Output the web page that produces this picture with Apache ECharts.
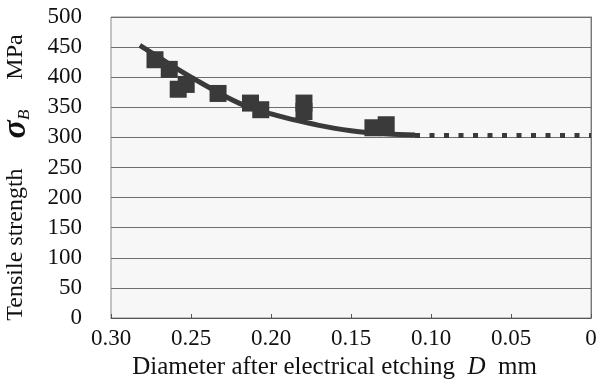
<!DOCTYPE html>
<html>
<head>
<meta charset="utf-8">
<script src="https://cdn.jsdelivr.net/npm/echarts@6/dist/echarts.min.js"></script>
<style>
  html, body { margin: 0; padding: 0; background: #fff; }
  #chart { width: 600px; height: 385px; }
</style>
</head>
<body>
<div id="chart"></div>
<script>
// measured points (diameter D in mm, tensile strength in MPa)
var pointD = [0.2725, 0.2636, 0.258, 0.253, 0.2331, 0.2128, 0.2064, 0.1794, 0.1794, 0.1363, 0.128];
var pointS = [429, 413, 380, 388, 373, 357, 346, 357, 343, 316, 321];

// fitted curve
var curveD = [0.282, 0.27, 0.26, 0.25, 0.24, 0.23, 0.22, 0.21, 0.20, 0.19, 0.18, 0.17, 0.16, 0.15, 0.14, 0.13, 0.12, 0.11];
var curveS = [453, 433, 416, 400, 385, 370, 357, 347, 339, 332, 326, 320, 315, 311, 308, 306, 305, 304];

// dotted extension
var extD = [0.11, 0.0];
var extS = [303, 303];

var xTicks = ['0.30', '0.25', '0.20', '0.15', '0.10', '0.05', '0'];

function zip(a, b) {
    var out = [];
    for (var i = 0; i < a.length; i++) out.push([a[i], b[i]]);
    return out;
}

var myChart = echarts.init(document.getElementById('chart'));
var serif = 'Liberation Serif';
var ink = '#3a3a3a';

var option = {
    animation: false,
    backgroundColor: '#fff',
    grid: {
        left: 111,
        right: 9,
        top: 17,
        bottom: 67,
        outerBoundsMode: 'none',
        show: true,
        backgroundColor: '#f7f7f7',
        borderColor: '#8a8a8a',
        borderWidth: 1
    },
    xAxis: {
        type: 'value',
        inverse: true,
        min: 0,
        max: 0.3,
        interval: 0.05,
        name: '{t|Diameter after electrical etching  }{i|D}{t|  mm}',
        nameLocation: 'middle',
        nameGap: 22,
        nameTextStyle: {
            padding: [0, 33, 0, 0],
            rich: {
                t: { fontFamily: serif, fontSize: 25, color: '#111' },
                i: { fontFamily: serif, fontSize: 25, fontStyle: 'italic', color: '#111' }
            }
        },
        axisLine: { show: true, onZero: false, lineStyle: { color: '#555', width: 1 } },
        axisTick: { show: true, inside: true, length: 4, lineStyle: { color: '#555' } },
        axisLabel: {
            fontFamily: serif,
            fontSize: 23,
            color: '#111',
            margin: 9,
            formatter: function (v) {
                var idx = Math.round((0.3 - v) / 0.05);
                return xTicks[idx];
            }
        },
        splitLine: { show: false }
    },
    yAxis: {
        type: 'value',
        min: 0,
        max: 500,
        interval: 50,
        name: '{t|Tensile strength     }{s|σ}{b|B}{t|     MPa}',
        nameLocation: 'middle',
        nameRotate: 90,
        nameGap: 78,
        nameTextStyle: {
            padding: [0, 20, 0, 0],
            rich: {
                t: { fontFamily: serif, fontSize: 24, color: '#111' },
                s: { fontFamily: serif, fontSize: 34, fontStyle: 'italic', fontWeight: 'bold', color: '#111' },
                b: { fontFamily: serif, fontSize: 17, fontStyle: 'italic', color: '#111', verticalAlign: 'bottom', padding: [13, 0, 0, 0] }
            }
        },
        axisLine: { show: true, lineStyle: { color: '#777', width: 1 } },
        axisTick: { show: false },
        axisLabel: { fontFamily: serif, fontSize: 23, color: '#111', margin: 29 },
        splitLine: { show: true, lineStyle: { color: '#6e6e6e', width: 1 } }
    },
    series: [
        {
            type: 'line',
            data: zip(curveD, curveS),
            smooth: true,
            showSymbol: false,
            lineStyle: { color: ink, width: 5 },
            z: 2
        },
        {
            type: 'line',
            data: zip(extD, extS),
            showSymbol: false,
            lineStyle: { color: ink, width: 5, type: [5, 9.5], cap: 'butt' },
            z: 2
        },
        {
            type: 'scatter',
            data: zip(pointD, pointS),
            symbol: 'rect',
            symbolSize: 17,
            itemStyle: { color: ink, opacity: 1 },
            z: 3
        }
    ]
};

myChart.setOption(option);
</script>
</body>
</html>
